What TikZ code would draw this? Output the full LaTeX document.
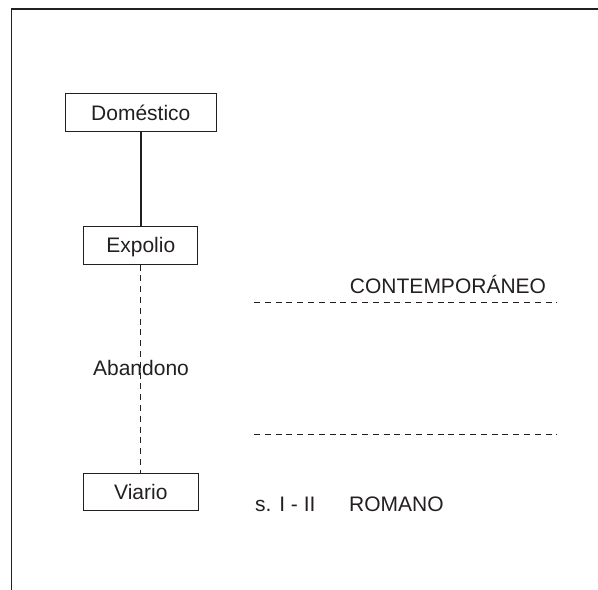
\documentclass[tikz,border=0pt]{standalone}
\usepackage{fontspec}
\setmainfont{Liberation Sans}
\definecolor{ink}{HTML}{231F20}
\begin{document}
\begin{tikzpicture}[x=1bp,y=-1bp,
  every node/.style={text=ink,font=\fontsize{21bp}{25bp}\selectfont},
  stagebox/.style={draw=ink,line width=1bp,inner sep=0pt,text height=15bp,text depth=0pt},
  label/.style={inner sep=0pt,anchor=base},
  dashline/.style={draw=ink,line width=1bp,dash pattern=on 6bp off 4.8bp},
  solidline/.style={draw=ink,line width=1.4bp}]
\useasboundingbox (0,0) rectangle (598,590);
% frame
\draw[ink,line width=1.6bp] (598,9.2) -- (11.5,9.2) -- (11.5,590);
% boxes
\node[stagebox,minimum width=151bp,minimum height=38bp] (dom) at (140.8,113) {Doméstico};
\node[stagebox,minimum width=114bp,minimum height=38bp] (exp) at (140.8,245) {Expolio};
\node[stagebox,minimum width=115bp,minimum height=37bp] (via) at (140.8,491.5) {Viario};
% connectors
\draw[solidline] (dom) -- (exp);
\draw[dashline] (exp) -- (via);
% labels
\node[label] (aba) at (141,375) {Abandono};
\node[label] (con) at (448,293) {CONTEMPORÁNEO};
\node[label,anchor=base west] (sig) at (255,511) {s. I - II};
\node[label,anchor=base west] (rom) at (349,511) {ROMANO};
% horizontal dashed lines
\coordinate (h1a) at (254,302);
\coordinate (h1b) at (557,302);
\coordinate (h2a) at (254,434);
\coordinate (h2b) at (557,434);
\draw[dashline] (h1a) -- (h1b);
\draw[dashline] (h2a) -- (h2b);
\end{tikzpicture}
\end{document}
